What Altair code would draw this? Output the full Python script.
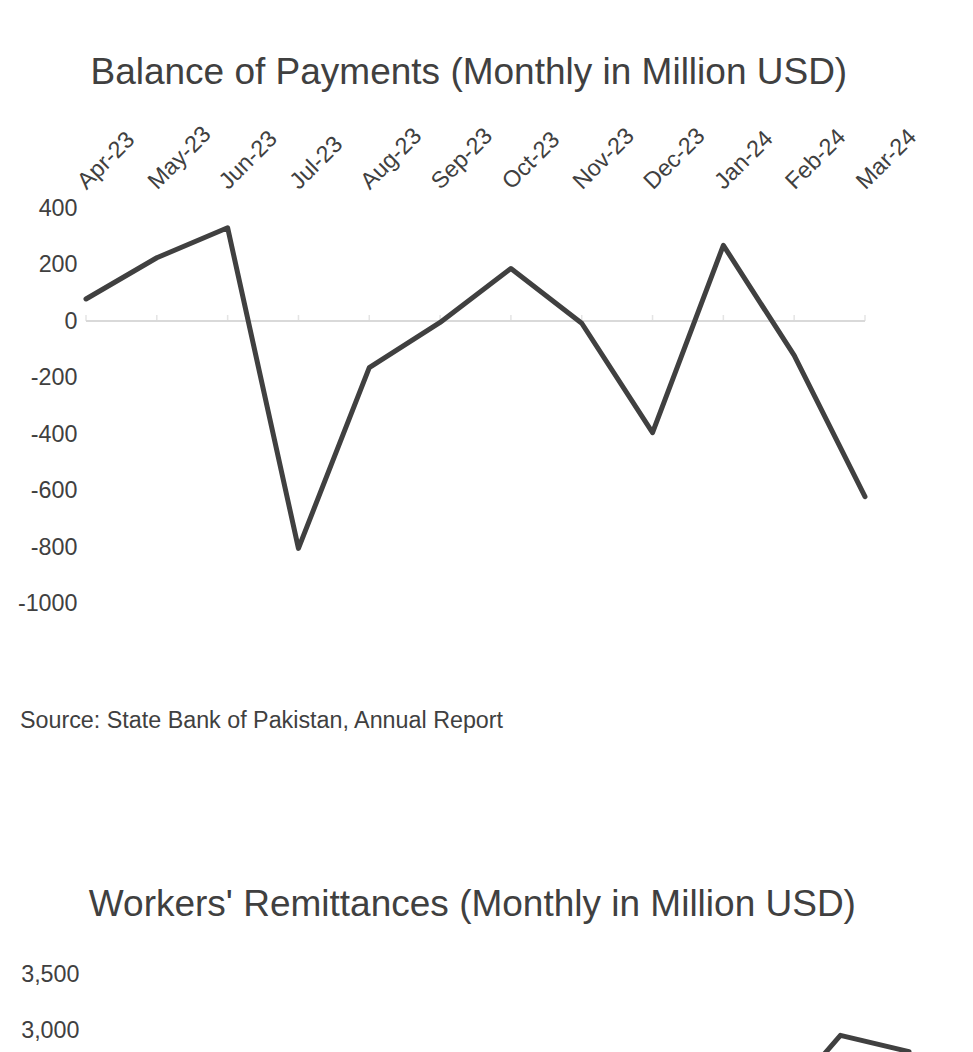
import altair as alt
import pandas as pd

# ---- data ----
months1 = ["Apr-23", "May-23", "Jun-23", "Jul-23", "Aug-23", "Sep-23",
           "Oct-23", "Nov-23", "Dec-23", "Jan-24", "Feb-24", "Mar-24"]
bop = [78, 224, 330, -805, -165, -5, 186, -8, -395, 268, -122, -622]
y1_ticks = [400, 200, 0, -200, -400, -600, -800, -1000]

months2 = months1 + ["Apr-24"]
remit = [2195, 2103, 2184, 2029, 2094, 2207, 2463, 2251, 2378, 2397, 2250, 2954, 2810]
y2_ticks = [0, 500, 1000, 1500, 2000, 2500, 3000, 3500]

title1 = "Balance of Payments (Monthly in Million USD)"
title2 = "Workers' Remittances (Monthly in Million USD)"
source = "Source: State Bank of Pakistan, Annual Report"

FONT = "Liberation Sans"
TEXT = "#404040"
LINE = "#404040"
GRID = "#d9d9d9"
LS = 23.3

df1 = pd.DataFrame({"month": months1, "value": bop})
df2 = pd.DataFrame({"month": months2, "value": remit})
dsrc = pd.DataFrame({"t": [source]})

x1 = alt.X("month:N", sort=months1, scale=alt.Scale(type="point", padding=0),
           axis=alt.Axis(orient="top", labelAngle=-45, labelAlign="left",
                         labelBaseline="alphabetic", ticks=False, domain=False,
                         labelPadding=18, labelFontSize=LS, labelFont=FONT,
                         labelColor=TEXT, title=None, labelOverlap=False))
y1 = alt.Y("value:Q", scale=alt.Scale(domain=[-1000, 400], nice=False, zero=False),
           axis=alt.Axis(values=y1_ticks, labelExpr="'' + datum.value",
                         grid=False, domain=False, ticks=False, labelPadding=9,
                         labelFontSize=LS, labelFont=FONT, labelColor=TEXT,
                         title=None, minExtent=66, maxExtent=66))

zero = alt.Chart(df1).mark_rule(color=GRID, strokeWidth=1.5).encode(y=alt.datum(0))
tks = alt.Chart(df1).mark_tick(color=GRID, thickness=1.5, size=6, yOffset=-3,
                               orient="vertical").encode(x=x1, y=alt.datum(0))
line1 = alt.Chart(df1).mark_line(color=LINE, strokeWidth=5, strokeCap="round",
                                 strokeJoin="round").encode(x=x1, y=y1)
src = alt.Chart(dsrc).mark_text(align="left", baseline="alphabetic", font=FONT,
                                fontSize=LS, color=TEXT).encode(
    text="t:N", x=alt.value(-66), y=alt.value(520))

c1 = alt.layer(zero, tks, line1, src).properties(
    width=779, height=395.5,
    title=alt.TitleParams(title1, fontSize=37, font=FONT, color=TEXT,
                          fontWeight="normal", anchor="middle", frame="bounds",
                          baseline="alphabetic", offset=1))

x2 = alt.X("month:N", sort=months2, scale=alt.Scale(type="point", padding=0),
           axis=alt.Axis(orient="bottom", labelAngle=-45, labelAlign="right",
                         ticks=False, domain=False, labelPadding=10,
                         labelFontSize=LS, labelFont=FONT, labelColor=TEXT,
                         title=None, labelOverlap=False))
y2 = alt.Y("value:Q", scale=alt.Scale(domain=[0, 3500], nice=False),
           axis=alt.Axis(values=y2_ticks, format=",.0f", grid=False, domain=False,
                         ticks=False, labelPadding=7, labelFontSize=LS,
                         labelFont=FONT, labelColor=TEXT, title=None,
                         minExtent=66, maxExtent=66))
line2 = alt.Chart(df2).mark_line(color=LINE, strokeWidth=5, strokeCap="round",
                                 strokeJoin="round").encode(x=x2, y=y2)
c2 = line2.properties(
    width=823, height=393.5,
    title=alt.TitleParams(title2, fontSize=37, font=FONT, color=TEXT,
                          fontWeight="normal", anchor="middle", frame="bounds",
                          baseline="alphabetic", offset=9))

chart = alt.vconcat(c1, c2, spacing=153).properties(
    padding={"left": 9, "top": 45, "right": 10, "bottom": 10}
).configure_view(stroke=None)

chart.save("out.html", embed_options={"renderer": "svg", "actions": False})
